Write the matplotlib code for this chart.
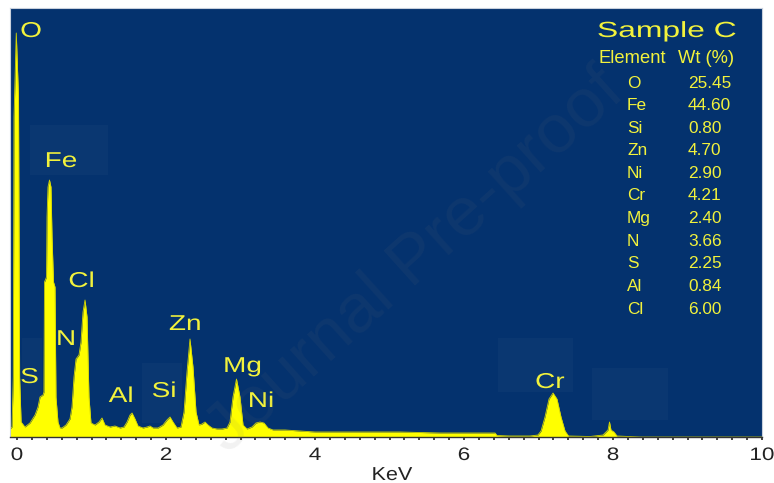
import matplotlib
matplotlib.use('Agg')
import matplotlib.pyplot as plt
from matplotlib import patheffects
from matplotlib.transforms import Affine2D
from matplotlib.patches import Rectangle
from matplotlib.ticker import MultipleLocator

# EDS spectrum (energy in KeV, counts in arbitrary units)
energy_kev = [-0.094, -0.067, -0.050, -0.040, -0.010, 0.020, 0.035, 0.055, 0.107,
              0.174, 0.242, 0.282, 0.309, 0.349, 0.362, 0.369, 0.396, 0.403, 0.416,
              0.436, 0.456, 0.470, 0.490, 0.510, 0.523, 0.550, 0.577, 0.604, 0.658,
              0.711, 0.738, 0.765, 0.792, 0.832, 0.859, 0.886, 0.913, 0.940, 0.966,
              0.993, 1.047, 1.101, 1.141, 1.181, 1.248, 1.315, 1.383, 1.436, 1.477,
              1.517, 1.544, 1.584, 1.624, 1.691, 1.745, 1.785, 1.826, 1.893, 1.960,
              2.013, 2.054, 2.094, 2.148, 2.201, 2.242, 2.282, 2.322, 2.362, 2.403,
              2.443, 2.483, 2.523, 2.564, 2.617, 2.685, 2.752, 2.819, 2.859, 2.899,
              2.946, 2.993, 3.034, 3.087, 3.154, 3.208, 3.262, 3.315, 3.369, 3.436,
              3.597, 3.799, 4.000, 4.201, 4.604, 5.141, 5.678, 6.081, 6.416, 6.443,
              6.617, 6.886, 6.993, 7.034, 7.087, 7.141, 7.195, 7.248, 7.302, 7.356,
              7.403, 7.691, 7.866, 7.906, 7.933, 7.953, 7.973, 8.013, 8.054, 8.362,
              10.000]
counts = [8, 10, 60, 320, 404, 340, 60, 15, 10,
          14, 22, 30, 40, 42, 45, 155, 160, 220, 250,
          257, 250, 200, 155, 150, 40, 15, 9, 9, 12,
          18, 30, 60, 78, 82, 95, 125, 137, 120, 40,
          14, 12, 15, 19, 12, 10, 11, 9, 10, 15,
          22, 24, 18, 11, 9, 10, 11, 9, 9, 12,
          17, 20, 15, 9, 10, 25, 65, 98, 70, 25,
          12, 13, 15, 12, 9, 8, 8, 9, 15, 40,
          58, 40, 12, 8, 10, 14, 15, 14, 9, 7,
          7, 6, 5, 5, 5, 5, 4, 4, 4, 1.5,
          1, 1, 2, 6, 20, 38, 44, 38, 20, 6,
          1, 0.5, 2, 5, 7, 15, 7, 5, 1, 0,
          0]

peak_labels = ['O', 'Fe', 'Cl', 'N', 'S', 'Al', 'Si', 'Zn', 'Mg', 'Ni', 'Cr']
# where each label sits (KeV, counts at baseline)
label_pos = [(0.188, 400), (0.591, 270), (0.866, 150), (0.658, 92), (0.168, 54),
             (1.396, 35), (1.973, 40), (2.255, 107), (3.027, 65), (3.275, 30),
             (7.154, 49)]

sample_name = 'Sample C'
table_elements = ['O', 'Fe', 'Si', 'Zn', 'Ni', 'Cr', 'Mg', 'N', 'S', 'Al', 'Cl']
table_wt = [25.45, 44.60, 0.80, 4.70, 2.90, 4.21, 2.40, 3.66, 2.25, 0.84, 6.00]

x_ticks = [0, 2, 4, 6, 8, 10]

BG = '#04326e'
YEL = '#ffff00'
TXT = '#f2f23c'
W, H = 774, 483


class Stretch(patheffects.AbstractPathEffect):
    # the source picture is squashed vertically, so its text reads wide
    def __init__(self, sx):
        super().__init__()
        self.sx = sx

    def draw_path(self, renderer, gc, tpath, affine, rgbFace=None):
        ext = tpath.get_extents()
        cx = (ext.x0 + ext.x1) / 2
        t = Affine2D().translate(-cx, 0).scale(self.sx, 1).translate(cx, 0) + affine
        renderer.draw_path(gc, tpath, t, rgbFace)


def fpos(x, y):
    # pixel position in the 774x483 picture -> figure fraction
    return x / W, 1 - y / H


plt.rcParams['font.family'] = ['Liberation Sans', 'DejaVu Sans']

fig = plt.figure(figsize=(W / 100, H / 100), dpi=100)
fig.patch.set_facecolor('white')
ax = fig.add_axes([10 / W, (H - 437) / H, 752 / W, 429 / H])
ax.set_facecolor(BG)

# faint boxes left behind around some labels
for x0, y0, x1, y1 in [(30, 125, 108, 175), (22, 338, 42, 400), (142, 363, 182, 423),
                       (498, 338, 573, 392), (592, 368, 668, 420)]:
    ax.add_patch(Rectangle(fpos(x0, y1), (x1 - x0) / W, (y1 - y0) / H,
                           transform=fig.transFigure, facecolor='#0a3771',
                           edgecolor='none', zorder=0.5))

ax.fill_between(energy_kev, counts, 0, color=YEL, lw=0, zorder=2)
ax.plot(energy_kev, counts, color='#d6d600', lw=0.6, zorder=2)

for lab, (x, y) in zip(peak_labels, label_pos):
    ax.text(x, y, lab, color=TXT, fontsize=15.5, ha='center', va='baseline',
            path_effects=[Stretch(1.3)], zorder=3)

ax.set_xlim(-0.094, 10)
ax.set_ylim(0, 429)
ax.set_yticks([])
ax.set_xticks(x_ticks)
ax.set_xticklabels([str(t) for t in x_ticks])
ax.xaxis.set_minor_locator(MultipleLocator(0.2))
ax.tick_params(axis='x', which='both', direction='out', length=2.2, width=1.2,
               color='#222222', labelsize=13, pad=5, labelcolor='#222222')
for t in ax.get_xticklabels():
    t.set_path_effects([Stretch(1.25)])

ax.spines['bottom'].set_color('#333333')
ax.spines['bottom'].set_linewidth(1.0)
for s in ['left', 'top', 'right']:
    ax.spines[s].set_color('#c8d0dc')
    ax.spines[s].set_linewidth(0.8)

fig.text(*fpos(392, 480), 'KeV', color='#222222', fontsize=13.5, ha='center',
         va='baseline', path_effects=[Stretch(1.15)])

# composition table
fig.text(*fpos(667, 37), sample_name, color=TXT, fontsize=15.8, ha='center',
         va='baseline', path_effects=[Stretch(1.45)])
fig.text(*fpos(598, 63), 'Element', color=TXT, fontsize=13.2, va='baseline')
fig.text(*fpos(678, 63), 'Wt (%)', color=TXT, fontsize=13.2, va='baseline')
for i, (el, wt) in enumerate(zip(table_elements, table_wt)):
    yb = 87.5 + i * 22.6
    fig.text(*fpos(627, yb), el, color=TXT, fontsize=12.4, va='baseline')
    fig.text(*fpos(688, yb), '%.2f' % wt, color=TXT, fontsize=12.4, va='baseline')

# journal watermark
fig.text(*fpos(415, 262), 'Journal Pre-proof', fontsize=50, color='#707070',
         alpha=0.09, rotation=42, ha='center', va='center', rotation_mode='anchor',
         zorder=10)

fig.savefig('out.png', dpi=100, facecolor='white')
